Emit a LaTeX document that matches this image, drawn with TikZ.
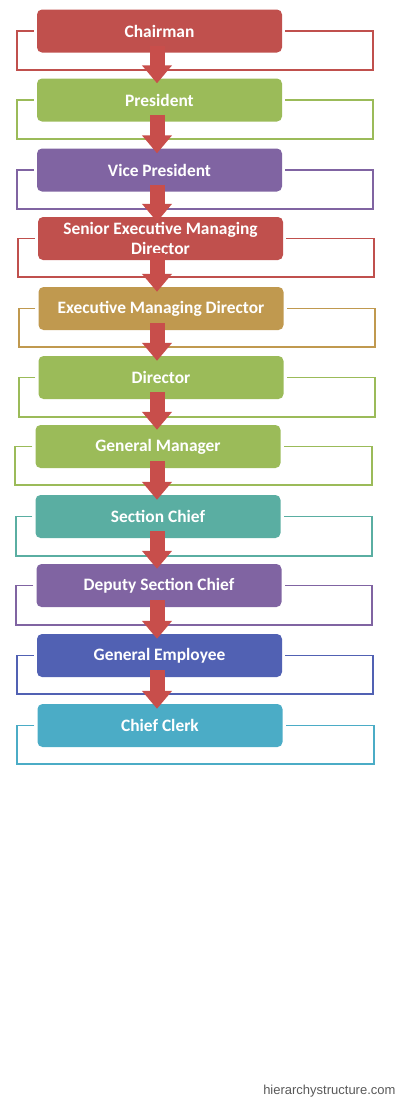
\documentclass[tikz,border=0pt]{standalone}
\usepackage{fontspec}
\setmainfont{Carlito}
\newfontfamily\wmfont{Liberation Sans}
\usetikzlibrary{arrows.meta}
\definecolor{cred}{HTML}{C0504D}
\definecolor{cgreen}{HTML}{9BBB59}
\definecolor{cpurple}{HTML}{8064A2}
\definecolor{cgold}{HTML}{C0994F}
\definecolor{cteal}{HTML}{5AAEA2}
\definecolor{cblue}{HTML}{5161B3}
\definecolor{caqua}{HTML}{4BACC6}
\definecolor{carrow}{HTML}{C84E4B}
\tikzset{
  box/.style={draw=none, fill=#1, rounded corners=5pt, minimum width=245pt, minimum height=43pt,
    inner sep=0pt, text=white, align=center,
    font=\fontsize{17.4}{19.5}\selectfont\bfseries},
  brk/.style={draw=#1, line width=1.8pt},
  downarrow/.style={draw=carrow, line width=15pt, -{Triangle[width=29pt,length=18pt]}},
}
\begin{document}
\begin{tikzpicture}[x=1pt,y=-1pt]
\useasboundingbox (0,0) rectangle (400,1100);
% boxes
\node[box=cred]    (b1)  at (159.5,31)   {Chairman};
\node[box=cgreen]  (b2)  at (159.5,100)  {President};
\node[box=cpurple] (b3)  at (159.5,170)  {Vice President};
\node[box=cred]    (b4)  at (160.5,238.5){Senior Executive Managing\\Director};
\node[box=cgold]   (b5)  at (161,308.5)  {Executive Managing Director};
\node[box=cgreen]  (b6)  at (161,377.5)  {Director};
\node[box=cgreen]  (b7)  at (158,446.5)  {General Manager};
\node[box=cteal]   (b8)  at (158,516.5)  {Section Chief};
\node[box=cpurple] (b9)  at (159,585.5)  {Deputy Section Chief};
\node[box=cblue]   (b10) at (159.5,655.5){General Employee};
\node[box=caqua]   (b11) at (160,725.5)  {Chief Clerk};
% brackets
\begin{scope}[on background layer/.style={}]
\draw[brk=cred]    ([xshift=-3pt]b1.west)  -| (17,70)  -| (373,31)  -- ([xshift=3pt]b1.east);
\draw[brk=cgreen]  ([xshift=-3pt]b2.west)  -| (17,139) -| (373,100) -- ([xshift=3pt]b2.east);
\draw[brk=cpurple] ([xshift=-3pt]b3.west)  -| (17,209) -| (373,170) -- ([xshift=3pt]b3.east);
\draw[brk=cred]    ([xshift=-3pt]b4.west)  -| (18,277) -| (374,238.5) -- ([xshift=3pt]b4.east);
\draw[brk=cgold]   ([xshift=-3pt]b5.west)  -| (19,347) -| (375,308.5) -- ([xshift=3pt]b5.east);
\draw[brk=cgreen]  ([xshift=-3pt]b6.west)  -| (19,417) -| (375,377.5) -- ([xshift=3pt]b6.east);
\draw[brk=cgreen]  ([xshift=-3pt]b7.west)  -| (15,485) -| (372,446.5) -- ([xshift=3pt]b7.east);
\draw[brk=cteal]   ([xshift=-3pt]b8.west)  -| (16,556) -| (372,516.5) -- ([xshift=3pt]b8.east);
\draw[brk=cpurple] ([xshift=-3pt]b9.west)  -| (16,625) -| (372,585.5) -- ([xshift=3pt]b9.east);
\draw[brk=cblue]   ([xshift=-3pt]b10.west) -| (17,694) -| (373,655.5) -- ([xshift=3pt]b10.east);
\draw[brk=caqua]   ([xshift=-3pt]b11.west) -| (17,764) -| (374,725.5) -- ([xshift=3pt]b11.east);
\end{scope}
% arrows
\foreach \a/\b in {b1/b2,b2/b3,b3/b4,b4/b5,b5/b6,b6/b7,b7/b8,b8/b9,b9/b10,b10/b11}{
  \draw[downarrow] ([yshift=7pt]\a.south -| 157,0) -- ([yshift=-5pt]\b.north -| 157,0);
}
\node[anchor=base east, text=black!65, font=\wmfont\fontsize{13}{15}\selectfont] (wm) at (399,1094) {hierarchystructure.com};
\end{tikzpicture}
\end{document}
